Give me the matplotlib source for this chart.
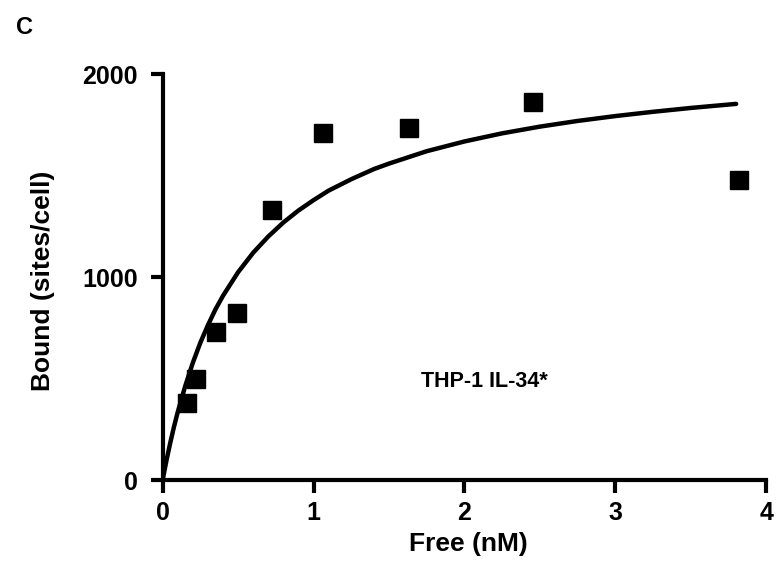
import numpy as np
import matplotlib.pyplot as plt

plt.rcParams['font.family'] = ['Liberation Sans', 'DejaVu Sans']
plt.rcParams['font.weight'] = 'bold'

# measured binding points
free_nM = [0.159, 0.221, 0.354, 0.49, 0.724, 1.062, 1.63, 2.454, 3.818]
bound = [381, 497, 730, 821, 1330, 1711, 1732, 1863, 1478]

# fitted curve
curve_x = [0, 0.025, 0.05, 0.075, 0.1, 0.15, 0.2, 0.25, 0.3, 0.35, 0.4, 0.5,
           0.6, 0.7, 0.8, 0.9, 1.0, 1.1, 1.25, 1.4, 1.5, 1.75, 2.0, 2.25,
           2.5, 2.75, 3.0, 3.25, 3.5, 3.8]
curve_y = [0, 95, 182, 262, 335, 464, 578, 677, 763, 841, 908, 1024,
           1120, 1200, 1269, 1328, 1379, 1426, 1482, 1532, 1559, 1620, 1668, 1708,
           1741, 1769, 1793, 1814, 1833, 1853]

fig = plt.figure(figsize=(7.78, 5.65), dpi=100)
ax = fig.add_axes([0.209, 0.150, 0.776, 0.719])

ax.plot(curve_x, curve_y, color='black', lw=3.2, solid_capstyle='round',
        solid_joinstyle='round', zorder=2)
ax.plot(free_nM, bound, 's', color='black', markersize=12.5, zorder=3, clip_on=False)

ax.set_xlim(0, 4)
ax.set_ylim(0, 2000)
ax.set_xticks([0, 1, 2, 3, 4])
ax.set_yticks([0, 1000, 2000])
for s in ['top', 'right']:
    ax.spines[s].set_visible(False)
for s in ['left', 'bottom']:
    ax.spines[s].set_linewidth(3)
ax.tick_params(width=3, length=9, labelsize=18)
ax.tick_params(axis='x', pad=6)
ax.tick_params(axis='y', pad=9)

ax.set_xlabel('Free (nM)', fontsize=19, fontweight='bold')
ax.xaxis.set_label_coords(0.507, -0.128)
ax.set_ylabel('Bound (sites/cell)', fontsize=19, fontweight='bold')
ax.yaxis.set_label_coords(-0.178, 0.49)
ax.text(2.13, 488, 'THP-1 IL-34*', fontsize=15.5, fontweight='bold', ha='center', va='center')
fig.text(0.032, 0.952, 'C', fontsize=17, fontweight='bold', ha='center', va='center')

fig.savefig('out.png', dpi=100)
